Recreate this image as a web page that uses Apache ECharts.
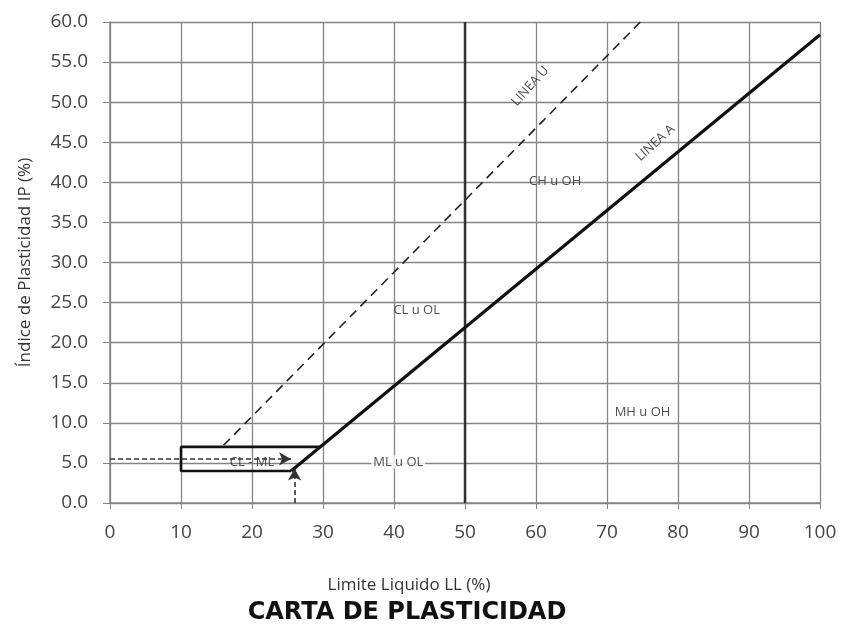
<!DOCTYPE html>
<html lang="es">
<head>
    <meta charset="UTF-8">
    <title>Carta de Plasticidad</title>
    <style>
        html, body { margin: 0; padding: 0; background: #fff; }
        #box { width: 844px; height: 628px; }
    </style>
</head>
<body>
    <div id="box"></div>
    <script src="https://cdn.jsdelivr.net/npm/echarts@6/dist/echarts.min.js"></script>
    <script>
        var lineA = [[25.5, 4], [100, 58.4]];
        var lineU = [[16, 7.2], [74.7, 60]];
        var clmlBox = [[25.5, 4], [10, 4], [10, 7], [29.6, 7]];
        var ll50 = [[50, 0], [50, 60]];
        var sampleLL = 26;
        var sampleIP = 5.5;
        var arrowTipLL = 25.5;
        var arrowTipIP = 4.3;
        var zoneNames = ['CH u OH', 'CL u OL', 'MH u OH', 'ML u OL', 'CL - ML'];
        var zonePos = [[62.7, 40.1], [43.2, 24.1], [75, 11.3], [40.6, 5.1], [20, 5.1]];
        var lineNames = ['LINEA U', 'LINEA A'];
        var lineNamePos = [[59.2, 52], [76.8, 44.9]];
        var lineNameAngle = [48, 42];

        var box = echarts.init(document.getElementById('box'));
        var txtColor = '#333';
        var gridColor = '#858585';

        var zoneData = zoneNames.map(function (n, i) {
            var d = { name: n, value: zonePos[i] };
            if (n === 'ML u OL') {
                d.label = { backgroundColor: '#fff', padding: [0, 2] };
            }
            return d;
        });
        var lineNameData = lineNames.map(function (n, i) {
            return { name: n, value: lineNamePos[i], label: { rotate: lineNameAngle[i] } };
        });

        var option = {
            animation: false,
            backgroundColor: '#fff',
            title: [{
                text: 'Limite Liquido LL (%)',
                left: 404,
                top: 572,
                textAlign: 'center',
                textStyle: { color: txtColor, fontSize: 17, fontWeight: 'normal', fontFamily: 'Open Sans' }
            }, {
                text: 'CARTA DE PLASTICIDAD',
                left: 402,
                top: 596,
                textAlign: 'center',
                textStyle: { color: '#111', fontSize: 24, fontWeight: 900, fontFamily: 'DejaVu Sans' }
            }],
            grid: { left: 110, right: 24, top: 22, bottom: 125 },
            xAxis: {
                type: 'value',
                min: 0,
                max: 100,
                interval: 10,
                axisLine: { show: true, lineStyle: { color: gridColor, width: 1.5 } },
                axisTick: { show: true, length: 6, lineStyle: { color: gridColor } },
                axisLabel: { color: '#444', fontSize: 19, margin: 20, fontFamily: 'Open Sans' },
                splitLine: { show: true, lineStyle: { color: gridColor, width: 1.3 } }
            },
            yAxis: {
                type: 'value',
                min: 0,
                max: 60,
                interval: 5,
                name: 'Índice de Plasticidad IP (%)',
                nameLocation: 'middle',
                nameGap: 76,
                nameTextStyle: { color: txtColor, fontSize: 17, fontFamily: 'Open Sans' },
                axisLine: { show: true, lineStyle: { color: gridColor, width: 1.5 } },
                axisTick: { show: true, length: 7, lineStyle: { color: gridColor } },
                axisLabel: {
                    color: '#444', fontSize: 19, margin: 22, fontFamily: 'Open Sans',
                    formatter: function (v) { return v.toFixed(1); }
                },
                splitLine: { show: true, lineStyle: { color: gridColor, width: 1.3 } }
            },
            series: [{
                name: 'LL 50',
                type: 'line',
                data: ll50,
                symbol: 'none',
                lineStyle: { color: '#333', width: 2.5 }
            }, {
                name: 'Linea U',
                type: 'line',
                data: lineU,
                symbol: 'none',
                lineStyle: { color: '#222', width: 1.6, type: [9, 6] }
            }, {
                name: 'Linea A',
                type: 'line',
                data: lineA,
                symbol: 'none',
                lineStyle: { color: '#111', width: 3.2 }
            }, {
                name: 'CL-ML',
                type: 'line',
                data: clmlBox,
                symbol: 'none',
                lineStyle: { color: '#111', width: 2.6 }
            }, {
                name: 'muestra',
                type: 'line',
                data: [],
                markLine: {
                    silent: true,
                    symbol: ['none', 'arrow'],
                    symbolSize: [10, 12],
                    label: { show: false },
                    lineStyle: { color: '#333', width: 1.6, type: [5, 3] },
                    data: [
                        [{ coord: [0, sampleIP] }, { coord: [arrowTipLL, sampleIP] }],
                        [{ coord: [sampleLL, 0] }, { coord: [sampleLL, arrowTipIP] }]
                    ]
                }
            }, {
                name: 'zonas',
                type: 'scatter',
                data: zoneData,
                symbolSize: 0,
                label: {
                    show: true,
                    position: 'inside',
                    formatter: '{b}',
                    color: '#222',
                    fontSize: 13,
                    fontFamily: 'Open Sans'
                }
            }, {
                name: 'lineas',
                type: 'scatter',
                data: lineNameData,
                symbolSize: 0,
                label: {
                    show: true,
                    position: 'inside',
                    formatter: '{b}',
                    color: '#222',
                    fontSize: 13,
                    fontFamily: 'Open Sans'
                }
            }]
        };
        box.setOption(option);
    </script>
</body>
</html>
